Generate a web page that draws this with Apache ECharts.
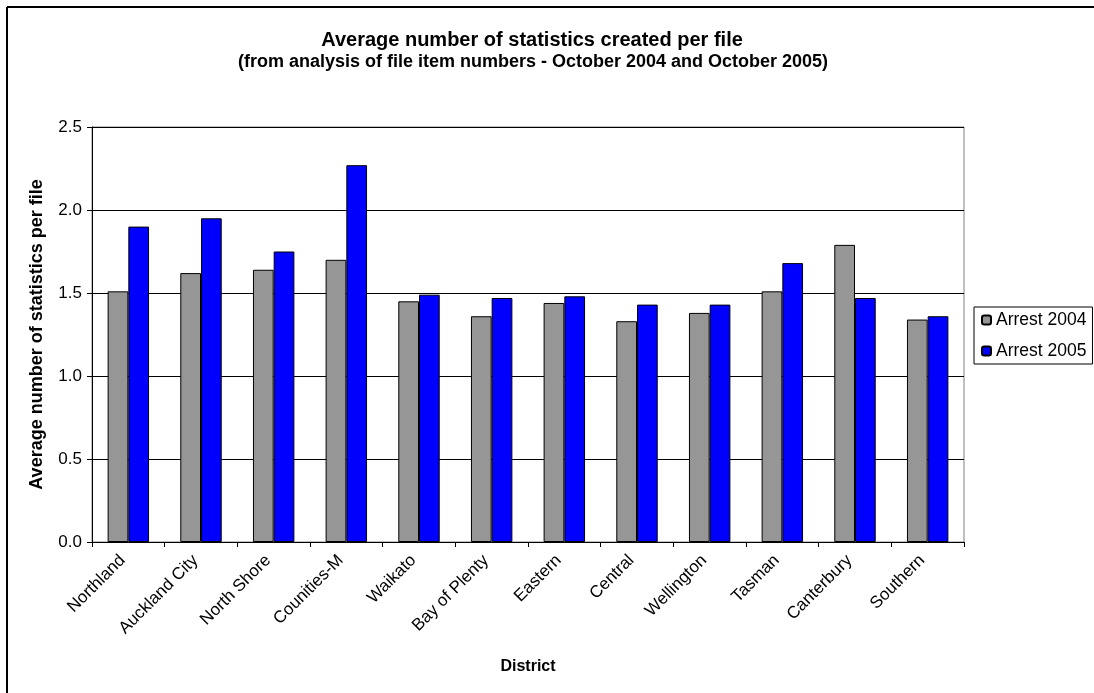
<!DOCTYPE html>
<html>
<head>
<meta charset="utf-8">
<script src="https://cdn.jsdelivr.net/npm/echarts@6/dist/echarts.min.js"></script>
<style>
html,body{margin:0;padding:0;background:#fff;}
#chart{width:1094px;height:693px;}
</style>
</head>
<body>
<div id="chart"></div>
<script>
const districts = ['Northland','Auckland City','North Shore','Counities-M','Waikato','Bay of Plenty','Eastern','Central','Wellington','Tasman','Canterbury','Southern'];
const arrest2004 = [1.51,1.62,1.64,1.70,1.45,1.36,1.44,1.33,1.38,1.51,1.79,1.34];
const arrest2005 = [1.90,1.95,1.75,2.27,1.49,1.47,1.48,1.43,1.43,1.68,1.47,1.36];
const seriesNames = ['Arrest 2004','Arrest 2005'];
const yTicks = [0,0.5,1.0,1.5,2.0,2.5];

const FONT = 'Liberation Sans, Arial, sans-serif';
const chart = echarts.init(document.getElementById('chart'), null, {renderer:'canvas'});
chart.setOption({
  animation:false,
  backgroundColor:'#fff',
  textStyle:{fontFamily:FONT,color:'#000'},
  title:[
    {text:'Average number of statistics created per file',left:527,textAlign:'center',top:25,
     textStyle:{fontFamily:FONT,fontSize:20,fontWeight:'bold',color:'#000'}},
    {text:'(from analysis of file item numbers - October 2004 and October 2005)',left:528,textAlign:'center',top:48,
     textStyle:{fontFamily:FONT,fontSize:18,fontWeight:'bold',color:'#000'}}
  ],
  legend:{
    orient:'vertical',left:974,top:307,
    padding:[4,6,4,7],itemGap:13,itemWidth:9,itemHeight:9,
    borderColor:'#000',borderWidth:1,
    textStyle:{fontFamily:FONT,fontSize:17.5,color:'#000'},
    data:seriesNames
  },
  grid:{left:92,right:130,top:127,bottom:151,show:true,borderColor:'#808080',borderWidth:1,backgroundColor:'transparent'},
  xAxis:{
    type:'category',data:districts,
    name:'District',nameLocation:'middle',nameGap:117,
    nameTextStyle:{fontFamily:FONT,fontSize:16,fontWeight:'bold',color:'#000'},
    axisLine:{lineStyle:{color:'#000',width:1}},
    axisTick:{show:true,length:5,lineStyle:{color:'#000'}},
    axisLabel:{rotate:45,interval:0,fontSize:17,color:'#000',fontFamily:FONT,margin:10,padding:[0,8,0,0]}
  },
  yAxis:{
    type:'value',min:0,max:2.5,interval:0.5,
    name:'Average number of statistics per file',nameLocation:'middle',nameGap:46,
    nameTextStyle:{fontFamily:FONT,fontSize:18,fontWeight:'bold',color:'#000'},
    axisLine:{show:true,lineStyle:{color:'#000',width:1}},
    axisTick:{show:true,length:5,lineStyle:{color:'#000'}},
    axisLabel:{fontSize:17,color:'#000',fontFamily:FONT,margin:10,
      formatter:function(v){return yTicks.indexOf(v)>=0?v.toFixed(1):'';}},
    splitLine:{show:true,lineStyle:{color:'#000',width:1}}
  },
  series:[
    {name:seriesNames[0],type:'bar',data:arrest2004,barGap:'0%',barCategoryGap:'43%',
     itemStyle:{color:'#969696',borderColor:'#000',borderWidth:1}},
    {name:seriesNames[1],type:'bar',data:arrest2005,barGap:'0%',barCategoryGap:'43%',
     itemStyle:{color:'#0000FF',borderColor:'#000',borderWidth:1}}
  ],
  graphic:[
    {type:'line',shape:{x1:7,y1:7,x2:1094,y2:7},style:{stroke:'#000',lineWidth:2}},
    {type:'line',shape:{x1:7,y1:7,x2:7,y2:693},style:{stroke:'#000',lineWidth:2}}
  ]
});
</script>
</body>
</html>
